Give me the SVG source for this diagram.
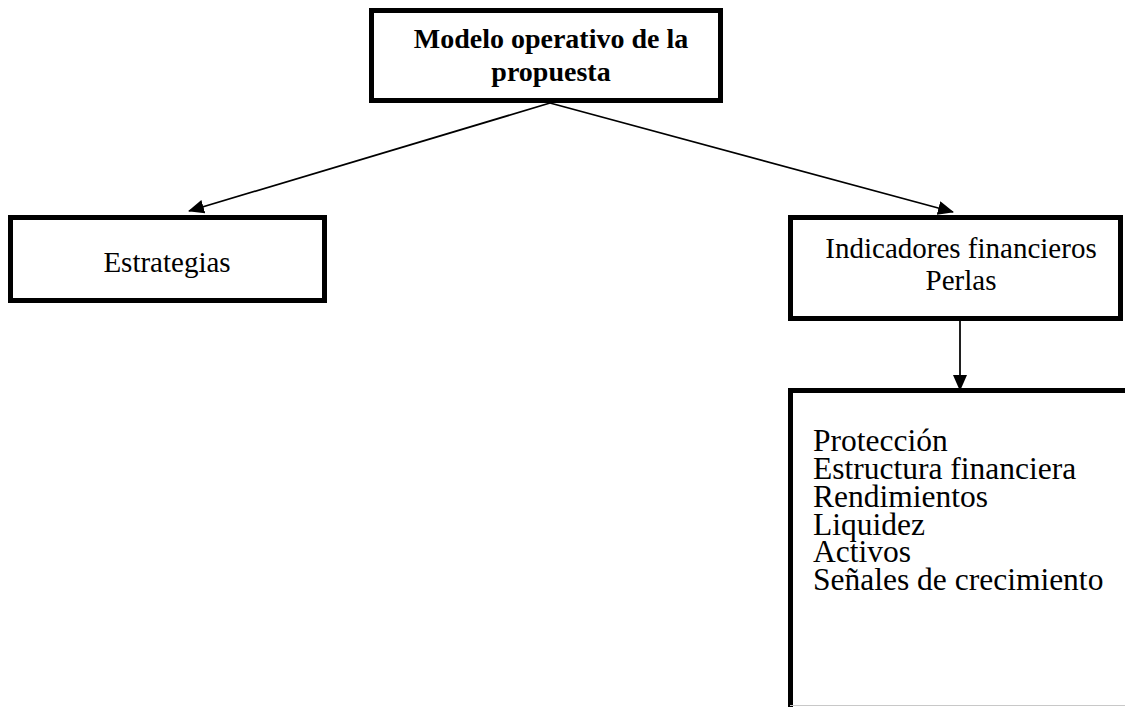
<svg xmlns="http://www.w3.org/2000/svg" width="1125" height="707" viewBox="0 0 1125 707">
  <style>
    .box { fill: #ffffff; stroke: #000000; stroke-width: 5; }
    .t { font-family: "Liberation Serif", "Times New Roman", serif; fill: #000000; }
    .c { text-anchor: middle; }
    .b { font-weight: bold; }
    .conn { stroke: #000000; stroke-width: 1.75; fill: none; marker-end: url(#arrow); }
  </style>
  <defs>
    <marker id="arrow" markerUnits="userSpaceOnUse" markerWidth="16" markerHeight="14" viewBox="0 0 16 14" refX="15" refY="7" orient="auto">
      <path d="M0,0 L16,7 L0,14 z" fill="#000000"/>
    </marker>
  </defs>
  <rect x="0" y="0" width="1125" height="707" fill="#ffffff"/>

  <g id="connectors">
    <line class="conn" x1="550" y1="103" x2="189" y2="211"/>
    <line class="conn" x1="550" y1="103" x2="953" y2="212"/>
    <line class="conn" x1="960" y1="321" x2="960" y2="390"/>
  </g>

  <g id="node-modelo">
    <rect class="box" x="371.5" y="10.5" width="349" height="90"/>
    <text class="t c b" x="551" y="48" font-size="28">Modelo operativo de la</text>
    <text class="t c b" x="551" y="81" font-size="28">propuesta</text>
  </g>

  <g id="node-estrategias">
    <rect class="box" x="10.5" y="217.5" width="314" height="83"/>
    <text class="t c" x="167" y="272" font-size="29">Estrategias</text>
  </g>

  <g id="node-indicadores">
    <rect class="box" x="790.5" y="217.5" width="330" height="101"/>
    <text class="t c" x="961" y="258" font-size="29">Indicadores financieros</text>
    <text class="t c" x="961" y="290" font-size="29">Perlas</text>
  </g>

  <g id="node-perlas-detalle">
    <rect class="box" x="790.5" y="390.5" width="400" height="325"/>
    <line x1="790" y1="705.5" x2="1125" y2="705.5" stroke="#c8c8c8" stroke-width="1"/>
    <text class="t" x="813" font-size="31.5">
      <tspan x="813" y="451">Protección</tspan>
      <tspan x="813" y="479">Estructura financiera</tspan>
      <tspan x="813" y="507">Rendimientos</tspan>
      <tspan x="813" y="535">Liquidez</tspan>
      <tspan x="813" y="562">Activos</tspan>
      <tspan x="813" y="590">Señales de crecimiento</tspan>
    </text>
  </g>
</svg>
